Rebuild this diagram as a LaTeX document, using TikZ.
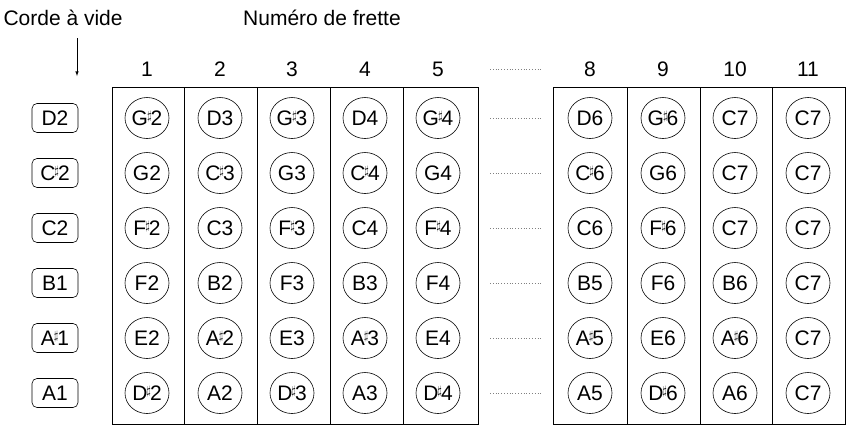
\documentclass[tikz,border=0pt]{standalone}
\usepackage{fontspec}
\setmainfont{Liberation Sans}
\usetikzlibrary{shapes.geometric}
\begin{document}
\begin{tikzpicture}[x=1pt,y=-1pt,
  note/.style={ellipse,draw,line width=0.6pt,minimum width=44pt,minimum height=41pt,inner sep=0pt,font=\fontsize{21}{22}\selectfont},
  open/.style={rectangle,rounded corners=5pt,draw,line width=0.6pt,minimum width=46pt,minimum height=29pt,inner sep=1pt,font=\fontsize{21}{22}\selectfont},
  hdr/.style={font=\fontsize{21}{22}\selectfont},
  grid/.style={line width=0.6pt},
  dots/.style={gray,dotted,line width=0.8pt}]
\useasboundingbox (0,0) rectangle (848,432);
\newcommand{\sh}[2]{#1\kern-1pt\raisebox{0.55ex}{\fontsize{13}{13}\selectfont$\sharp$}\kern-1pt#2}
\node[hdr,anchor=west] (corde) at (0,18) {Corde à vide};
\node[hdr] (num) at (322,18) {Numéro de frette};
\coordinate (a1) at (77,38);
\coordinate (a2) at (77,76);
\draw[-latex,line width=0.6pt] (a1) -- (a2);
\draw[grid] (112,87) rectangle (478,424);
\draw[grid] (553,87) rectangle (845,424);
\foreach \x in {184,257,330,403,627,700,772} \draw[grid] (\x,87) -- (\x,424);
\foreach \c/\x in {1/147,2/220,3/292,4/365,5/438,8/590,9/663,10/735,11/808}
  \node[hdr] (h\c) at (\x,69) {\c};
\foreach \y in {69,118,173,228,283,338,393} \draw[dots] (490,\y) -- (543,\y);
\foreach \r/\y/\o/\a/\b/\c/\d/\e/\f/\g/\h/\i in {
 1/118/D2/\sh{G}{2}/D3/\sh{G}{3}/D4/\sh{G}{4}/D6/\sh{G}{6}/C7/C7,
 2/173/\sh{C}{2}/G2/\sh{C}{3}/G3/\sh{C}{4}/G4/\sh{C}{6}/G6/C7/C7,
 3/228/C2/\sh{F}{2}/C3/\sh{F}{3}/C4/\sh{F}{4}/C6/\sh{F}{6}/C7/C7,
 4/283/B1/F2/B2/F3/B3/F4/B5/F6/B6/C7,
 5/338/\sh{A}{1}/E2/\sh{A}{2}/E3/\sh{A}{3}/E4/\sh{A}{5}/E6/\sh{A}{6}/C7,
 6/393/A1/\sh{D}{2}/A2/\sh{D}{3}/A3/\sh{D}{4}/A5/\sh{D}{6}/A6/C7}{
  \node[open] (o\r) at (55,\y) {\o};
  \node[note] (n\r-1) at (147,\y) {\a};
  \node[note] (n\r-2) at (220,\y) {\b};
  \node[note] (n\r-3) at (292,\y) {\c};
  \node[note] (n\r-4) at (365,\y) {\d};
  \node[note] (n\r-5) at (438,\y) {\e};
  \node[note] (n\r-8) at (590,\y) {\f};
  \node[note] (n\r-9) at (663,\y) {\g};
  \node[note] (n\r-10) at (735,\y) {\h};
  \node[note] (n\r-11) at (808,\y) {\i};
}
\end{tikzpicture}
\end{document}
